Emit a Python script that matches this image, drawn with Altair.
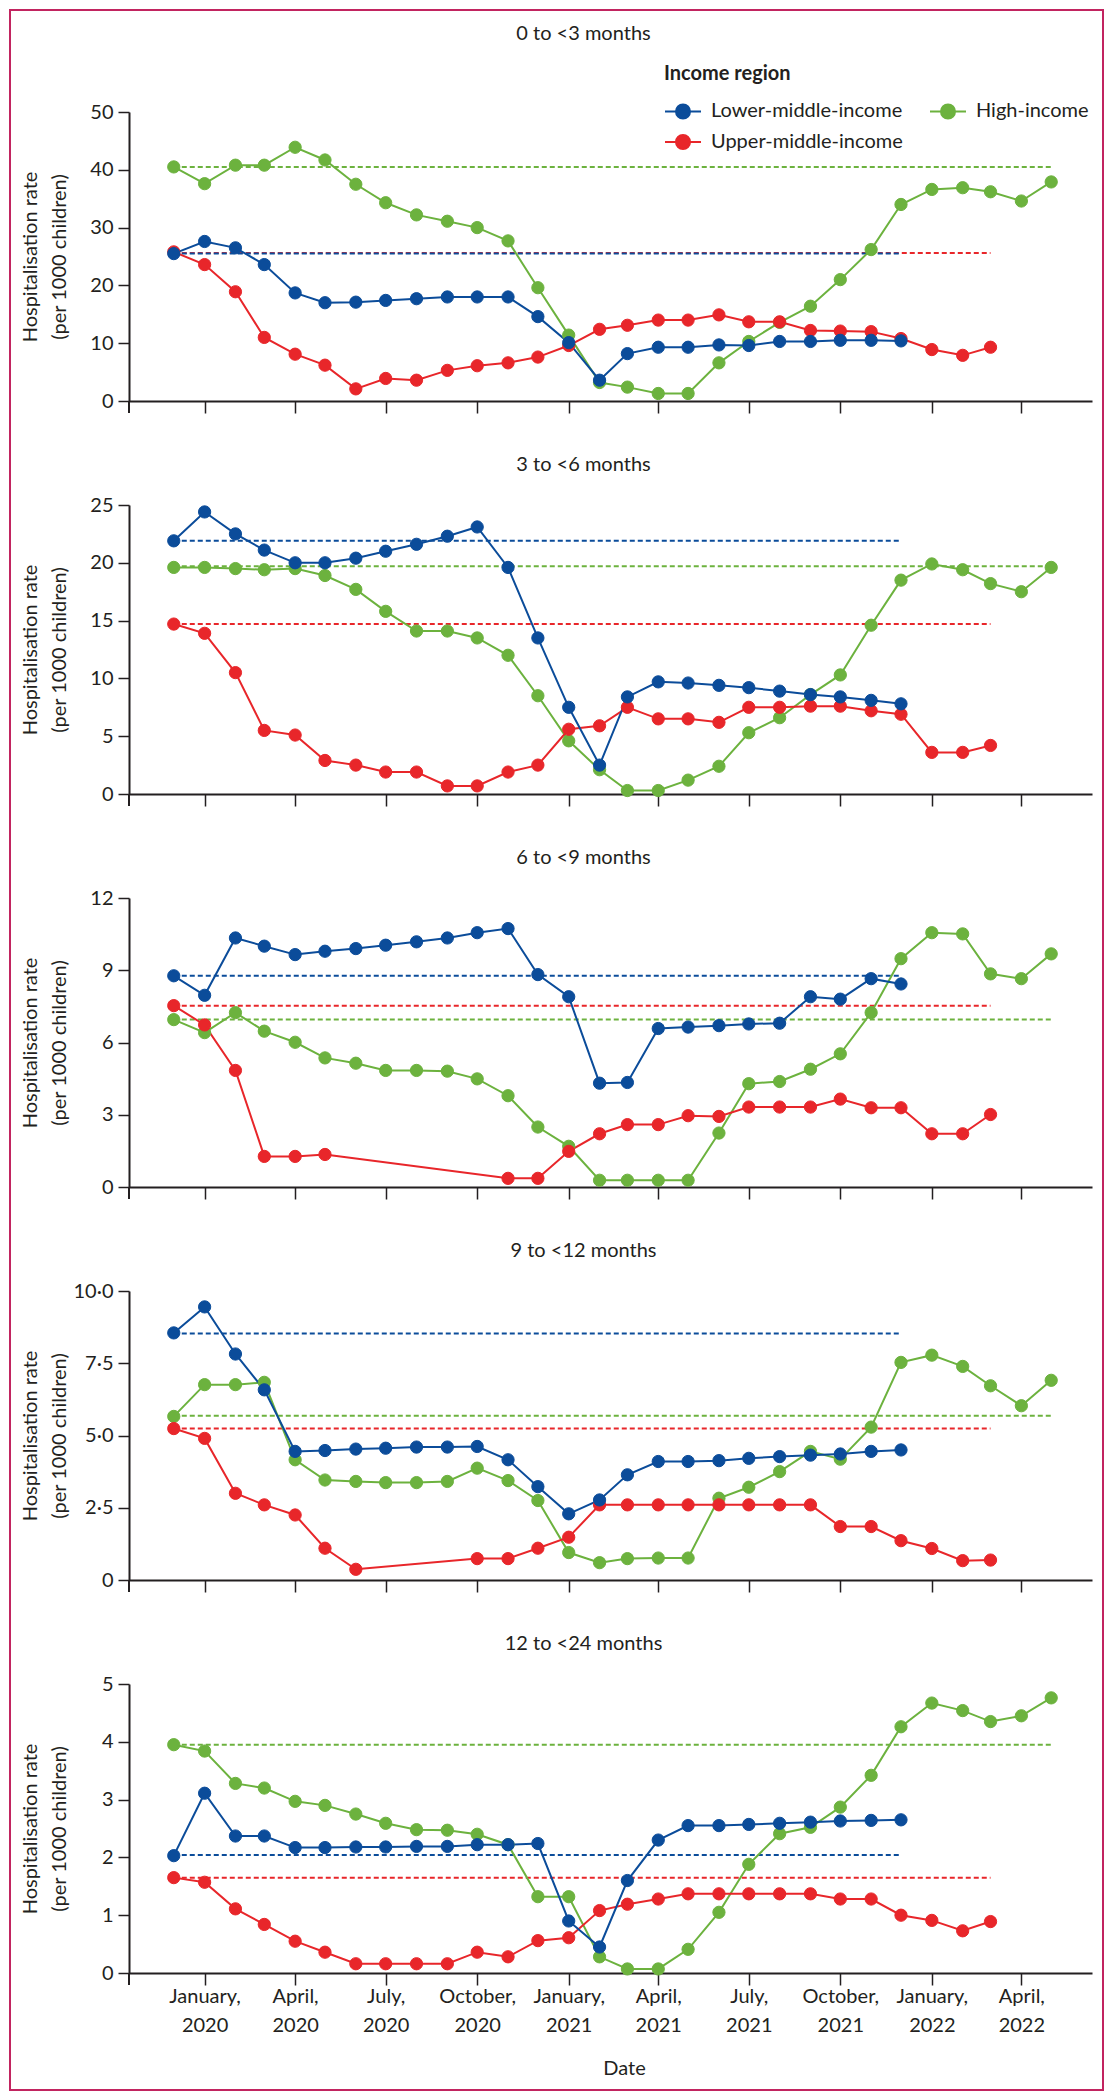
import altair as alt
import pandas as pd

# ---------------- data ----------------
MONTHS = [
    "2019-12-01", "2020-01-01", "2020-02-01", "2020-03-01", "2020-04-01", "2020-05-01",
    "2020-06-01", "2020-07-01", "2020-08-01", "2020-09-01", "2020-10-01", "2020-11-01",
    "2020-12-01", "2021-01-01", "2021-02-01", "2021-03-01", "2021-04-01", "2021-05-01",
    "2021-06-01", "2021-07-01", "2021-08-01", "2021-09-01", "2021-10-01", "2021-11-01",
    "2021-12-01", "2022-01-01", "2022-02-01", "2022-03-01", "2022-04-01", "2022-05-01",
]

PANEL_TITLES = ["0 to <3 months", "3 to <6 months", "6 to <9 months",
                "9 to <12 months", "12 to <24 months"]

# legend entries are laid out column by column: col 1 = first two, col 2 = last
REGIONS = ["Lower-middle-income", "Upper-middle-income", "High-income"]
COLORS = ["#0b4c9a", "#e8262a", "#6cb23e"]

Y_MAX = [50, 25, 12, 10, 5]
Y_TICKS = [
    [0, 10, 20, 30, 40, 50],
    [0, 5, 10, 15, 20, 25],
    [0, 3, 6, 9, 12],
    [0, 2.5, 5, 7.5, 10],
    [0, 1, 2, 3, 4, 5],
]

# Lower-middle-income (Dec 2019 - Dec 2021)
LMIC = [
    [25.5, 27.6, 26.5, 23.6, 18.7, 17.0, 17.1, 17.4, 17.7, 18.0, 18.0, 18.0, 14.6,
     10.1, 3.6, 8.2, 9.3, 9.3, 9.7, 9.6, 10.3, 10.3, 10.5, 10.5, 10.4],
    [21.9, 24.4, 22.5, 21.1, 20.0, 20.0, 20.4, 21.0, 21.6, 22.3, 23.1, 19.6, 13.5,
     7.5, 2.5, 8.4, 9.7, 9.6, 9.4, 9.2, 8.9, 8.6, 8.4, 8.1, 7.8],
    [8.77, 7.96, 10.34, 10.0, 9.65, 9.79, 9.9, 10.04, 10.18, 10.34, 10.56, 10.73, 8.82,
     7.9, 4.31, 4.34, 6.58, 6.64, 6.7, 6.77, 6.8, 7.9, 7.8, 8.65, 8.43],
    [8.55, 9.45, 7.82, 6.58, 4.45, 4.48, 4.53, 4.56, 4.6, 4.6, 4.62, 4.16, 3.23,
     2.29, 2.77, 3.64, 4.1, 4.1, 4.13, 4.21, 4.27, 4.32, 4.36, 4.45, 4.5],
    [2.03, 3.11, 2.37, 2.37, 2.17, 2.17, 2.18, 2.18, 2.19, 2.19, 2.22, 2.22, 2.24,
     0.9, 0.45, 1.6, 2.3, 2.55, 2.55, 2.57, 2.59, 2.61, 2.63, 2.64, 2.65],
]

# Upper-middle-income (Dec 2019 - Mar 2022), None = no data
UMIC = [
    [25.8, 23.6, 18.9, 11.0, 8.1, 6.2, 2.1, 3.9, 3.6, 5.3, 6.1, 6.6, 7.6, 9.6, 12.4,
     13.1, 14.0, 14.0, 14.9, 13.7, 13.7, 12.2, 12.1, 12.0, 10.8, 8.9, 7.9, 9.3],
    [14.7, 13.9, 10.5, 5.5, 5.1, 2.9, 2.5, 1.9, 1.9, 0.7, 0.7, 1.9, 2.5, 5.6, 5.9,
     7.5, 6.5, 6.5, 6.2, 7.5, 7.5, 7.6, 7.6, 7.2, 6.9, 3.6, 3.6, 4.2],
    [7.53, 6.73, 4.84, 1.27, 1.27, 1.35, None, None, None, None, None, 0.36, 0.36,
     1.48, 2.21, 2.59, 2.59, 2.96, 2.93, 3.32, 3.32, 3.32, 3.65, 3.29, 3.29, 2.21, 2.21, 3.01],
    [5.24, 4.9, 3.0, 2.6, 2.25, 1.1, 0.37, None, None, None, 0.74, 0.74, 1.1, 1.48,
     2.6, 2.6, 2.6, 2.6, 2.6, 2.6, 2.6, 2.6, 1.85, 1.85, 1.36, 1.09, 0.67, 0.69],
    [1.65, 1.57, 1.11, 0.84, 0.55, 0.36, 0.16, 0.16, 0.16, 0.16, 0.36, 0.28, 0.56,
     0.61, 1.08, 1.19, 1.28, 1.37, 1.37, 1.37, 1.37, 1.37, 1.28, 1.28, 1.0, 0.91, 0.73, 0.89],
]

# High-income (Dec 2019 - May 2022)
HIC = [
    [40.5, 37.6, 40.8, 40.8, 43.9, 41.7, 37.5, 34.3, 32.2, 31.1, 30.0, 27.7, 19.6, 11.4,
     3.2, 2.4, 1.3, 1.3, 6.6, 10.3, 13.6, 16.4, 21.0, 26.2, 34.0, 36.6, 36.9, 36.2, 34.6, 37.9],
    [19.6, 19.6, 19.5, 19.4, 19.5, 18.9, 17.7, 15.8, 14.1, 14.1, 13.5, 12.0, 8.5, 4.6,
     2.1, 0.3, 0.3, 1.2, 2.4, 5.3, 6.6, 8.6, 10.3, 14.6, 18.5, 19.9, 19.4, 18.2, 17.5, 19.6],
    [6.95, 6.41, 7.24, 6.47, 6.01, 5.36, 5.14, 4.84, 4.84, 4.81, 4.49, 3.79, 2.49, 1.69,
     0.28, 0.28, 0.28, 0.28, 2.24, 4.29, 4.38, 4.89, 5.53, 7.24, 9.48, 10.56, 10.51, 8.85, 8.65, 9.68],
    [5.66, 6.76, 6.76, 6.84, 4.16, 3.46, 3.41, 3.37, 3.37, 3.41, 3.87, 3.44, 2.75, 0.95,
     0.6, 0.74, 0.76, 0.76, 2.83, 3.21, 3.75, 4.45, 4.18, 5.29, 7.53, 7.78, 7.39, 6.72, 6.03, 6.91],
    [3.95, 3.84, 3.28, 3.2, 2.97, 2.9, 2.75, 2.59, 2.48, 2.47, 2.4, 2.22, 1.32, 1.32,
     0.28, 0.07, 0.07, 0.41, 1.05, 1.88, 2.41, 2.52, 2.87, 3.42, 4.26, 4.67, 4.54, 4.35, 4.45, 4.76],
]

# Baseline (December 2019) reference levels, dashed lines
BASE_LMIC = [25.5, 21.9, 8.77, 8.53, 2.04]
BASE_UMIC = [25.6, 14.7, 7.53, 5.24, 1.65]
BASE_HIC = [40.5, 19.7, 6.95, 5.68, 3.95]

X_TICKS = [(2020, 1), (2020, 4), (2020, 7), (2020, 10), (2021, 1), (2021, 4),
           (2021, 7), (2021, 10), (2022, 1), (2022, 4)]

# ---------------- styling ----------------
W, H = 963, 289
SPACING = 104
FONT = "Lato"
INK = "#231f20"
BORDER = "#c22460"
FS = 20

color_scale = alt.Scale(domain=REGIONS, range=COLORS)
x_scale = alt.Scale(
    type="utc",
    domain=[alt.DateTime(year=2019, month=10, date=17, utc=True),
            alt.DateTime(year=2022, month=6, date=11, utc=True)],
)
x_values = [alt.DateTime(year=y, month=m, date=1, utc=True) for y, m in X_TICKS]

LEGEND_SYMBOL = ("M-1,0L1,0M0.39,0A0.39,0.39,0,1,1,-0.39,0"
                 "A0.39,0.39,0,1,1,0.39,0Z")


def series_frame(i):
    rows = []
    for region, vals in (("High-income", HIC[i]), ("Upper-middle-income", UMIC[i]),
                         ("Lower-middle-income", LMIC[i])):
        for d, v in zip(MONTHS, vals):
            if v is not None:
                rows.append({"date": d, "region": region, "rate": v})
    return pd.DataFrame(rows)


def baseline_frame(i):
    rows = []
    for region, vals, b in (("High-income", HIC[i], BASE_HIC[i]),
                            ("Upper-middle-income", UMIC[i], BASE_UMIC[i]),
                            ("Lower-middle-income", LMIC[i], BASE_LMIC[i])):
        rows.append({"region": region, "rate": b, "start": MONTHS[0],
                     "end": MONTHS[len(vals) - 1]})
    return pd.DataFrame(rows)


def make_x_axis(last):
    if last:
        return alt.Axis(
            values=x_values, title="Date", grid=False, tickSize=12, tickWidth=1.5,
            tickColor=INK, domainColor=INK, domainWidth=2,
            labelExpr="[utcFormat(datum.value, '%B') + ',', utcFormat(datum.value, '%Y')]",
            labelFont=FONT, labelFontSize=FS, labelColor=INK, labelLineHeight=29,
            labelPadding=1, labelFlush=False, labelOverlap=False,
            titleFont=FONT, titleFontSize=FS, titleFontWeight="normal", titleColor=INK,
            titleX=495, titleY=95, titleAlign="center", titleBaseline="middle",
        )
    return alt.Axis(
        values=x_values, title=None, labels=False, grid=False, tickSize=12,
        tickWidth=1.5, tickColor=INK, domainColor=INK, domainWidth=2,
    )


def make_y_axis(i):
    kw = dict(
        values=Y_TICKS[i], grid=False, tickSize=11, tickWidth=1.5, tickColor=INK,
        domainColor=INK, domainWidth=2, labelFont=FONT, labelFontSize=FS,
        labelColor=INK, labelPadding=5,
        title=["Hospitalisation rate", "(per 1000 children)"],
        titleFont=FONT, titleFontSize=FS, titleFontWeight="normal", titleColor=INK,
        titleLineHeight=29, titleAngle=270, titleX=-109, titleY=H / 2,
        titleAlign="center", titleBaseline="top",
    )
    if i == 3:
        kw["labelExpr"] = ("datum.value == 0 ? '0' : "
                           "replace(format(datum.value, '.1f'), '.', '\u00b7')")
    return alt.Axis(**kw)


def make_legend():
    return alt.Legend(
        title="Income region", orient="none", legendX=535, legendY=-48,
        columns=2, symbolType=LEGEND_SYMBOL, symbolSize=1296,
        symbolStrokeWidth=2, symbolOpacity=1, labelOffset=9,
        columnPadding=23, rowPadding=-10, titlePadding=8, padding=0, offset=0,
        labelFont=FONT, labelFontSize=FS, labelColor=INK, labelLimit=400,
        titleFont=FONT, titleFontSize=FS, titleFontWeight="bold",
        titleColor=INK, titleAnchor="start",
    )


def panel(i):
    last = i == 4
    y_scale = alt.Scale(domain=[0, Y_MAX[i]], nice=False)

    def X(field):
        return alt.X(field, scale=x_scale, axis=make_x_axis(last))

    def Y(field):
        return alt.Y(field, scale=y_scale, axis=make_y_axis(i))

    def stroke():
        if i == 0:
            return alt.Stroke("region:N", scale=color_scale, legend=make_legend())
        return alt.Stroke("region:N", scale=color_scale, legend=None)

    def fill():
        if i == 0:
            return alt.Fill("region:N", scale=color_scale, legend=make_legend())
        return alt.Fill("region:N", scale=color_scale, legend=None)

    df = series_frame(i)
    bf = baseline_frame(i)

    rules = alt.Chart(bf).mark_rule(strokeWidth=2, strokeDash=[5, 3]).encode(
        x=X("start:T"), x2="end:T", y=Y("rate:Q"), stroke=stroke(),
    )
    lines = alt.Chart(df).mark_line(strokeWidth=2).encode(
        x=X("date:T"), y=Y("rate:Q"), stroke=stroke(),
    )
    points = alt.Chart(df).mark_circle(size=150, opacity=1, strokeWidth=1).encode(
        x=X("date:T"), y=Y("rate:Q"), fill=fill(), stroke=stroke(),
    )
    # short extension of the y axis line below the x axis
    stub = alt.Chart(pd.DataFrame({"k": [0]})).mark_rule(
        color=INK, strokeWidth=2
    ).encode(x=alt.value(0), y=alt.value(H), y2=alt.value(H + 12))

    return alt.layer(rules, lines, points, stub).properties(
        width=W, height=H,
        title=alt.TitleParams(
            PANEL_TITLES[i], font=FONT, fontSize=FS, fontWeight="normal",
            color=INK, anchor="middle", frame="group", dx=-27, offset=20,
        ),
    )


# figure frame, drawn from a tiny cell placed below the last panel
cell_top = 5 * (H + SPACING)
frame = alt.Chart(pd.DataFrame({"k": [0]})).mark_rect(
    fill="transparent", stroke=BORDER, strokeWidth=2
).encode(
    x=alt.value(-119), x2=alt.value(974),
    y=alt.value(-102 - cell_top), y2=alt.value(1978 - cell_top),
).properties(width=W, height=1)

chart = alt.vconcat(
    *[panel(i) for i in range(5)], frame, spacing=SPACING, bounds="flush", padding=0,
).resolve_scale(
    fill="independent", stroke="independent", y="independent"
).resolve_legend(
    fill="independent", stroke="independent"
).configure(
    font=FONT
).configure_view(
    stroke="transparent"
)

chart.save("out.html", embed_options={"renderer": "svg", "actions": False})
